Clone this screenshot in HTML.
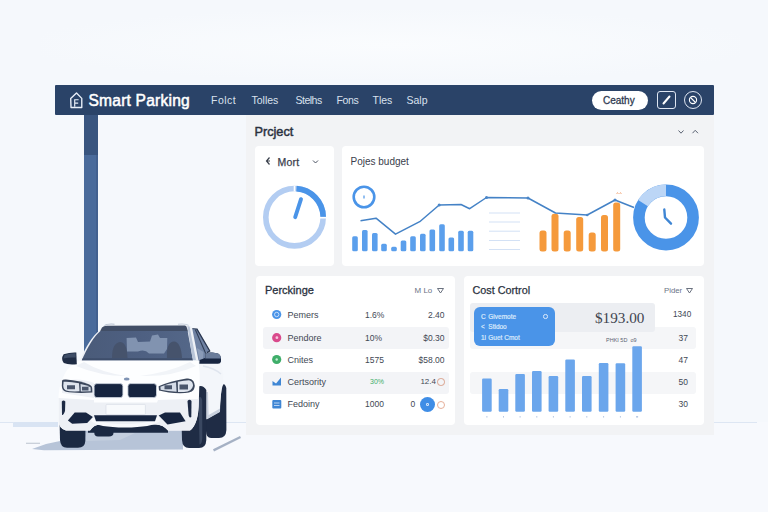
<!DOCTYPE html>
<html><head><meta charset="utf-8">
<style>
*{margin:0;padding:0;box-sizing:border-box}
html,body{width:768px;height:512px;overflow:hidden}
body{background:#f5f8fc;font-family:"Liberation Sans",sans-serif;position:relative;color:#2a3140}
.abs{position:absolute}
.t{position:absolute;white-space:nowrap;line-height:1}
#ground{left:0;top:422px;width:768px;height:90px;background:#f7f9fd}
.hz{position:absolute;top:422px;height:1px;background:#dde6f3}
#glow{left:40px;top:10px;width:700px;height:70px;background:radial-gradient(ellipse at center,#fafcfe 0%,#f5f8fc 75%)}
#band{left:13px;top:422px;width:45px;height:5px;background:#d9e4f3}
#pole1{left:84px;top:115px;width:14px;height:40px;background:#39557f}
#pole2{left:84px;top:155px;width:14px;height:200px;background:linear-gradient(90deg,#4a6b9b 0,#4a6b9b 85%,#43618f 85%)}
#hdr{left:55px;top:85px;width:659px;height:30px;background:#2a4368;border-radius:1px}
#panel{left:245.5px;top:115px;width:468.5px;height:319.5px;background:#f2f3f5}
.card{position:absolute;background:#fff;border-radius:4px}
.nav{color:#d9e1ee;font-size:10.5px;top:94.5px}
.stripe{position:absolute;background:#f3f4f7;border-radius:3px}
.row{font-size:9px;color:#424854}
.bx{font-size:6.5px;color:#dceafc;-webkit-text-stroke:0.2px #dceafc}
</style></head><body>
<div class="abs" id="glow"></div>
<div class="abs" id="ground"></div>
<div class="abs" id="band"></div>
<div class="hz" style="left:0;width:14px"></div><div class="hz" style="left:226px;width:20px"></div><div class="hz" style="left:714px;width:43px"></div>
<div class="abs" id="pole1"></div>
<div class="abs" id="pole2"></div>
<div class="abs" id="panel"></div>
<div class="abs" id="hdr"></div>

<!-- header content -->
<svg class="abs" style="left:68px;top:90.5px" width="17" height="19" viewBox="0 0 16 18"><path d="M2.5 7.2 L8 1.8 L13 7 V15.6 H2.8 Z" fill="none" stroke="#e8eef8" stroke-width="1.3" stroke-linejoin="round"/><path d="M6.3 15 V8.3 H10 M6.3 11.5 H9.6" fill="none" stroke="#e8eef8" stroke-width="1.1"/></svg>
<div class="t" id="brand" style="left:88.5px;top:92.5px;font-size:15.6px;color:#fff;-webkit-text-stroke:0.5px #fff;letter-spacing:0.2px">Smart Parking</div>
<div class="t nav" style="left:211px;letter-spacing:0.5px">Folct</div>
<div class="t nav" style="left:251.5px">Tolles</div>
<div class="t nav" style="left:295.5px;letter-spacing:-0.5px">Stelhs</div>
<div class="t nav" style="left:336.5px;letter-spacing:-0.4px">Fons</div>
<div class="t nav" style="left:372.5px">Tles</div>
<div class="t nav" style="left:406.5px">Salp</div>
<div class="abs" style="left:592px;top:90.5px;width:55.5px;height:19.5px;border-radius:10px;background:#fff"></div>
<div class="t" style="left:603px;top:95.5px;font-size:10px;color:#2f3b52;-webkit-text-stroke:0.3px #2f3b52">Ceathy</div>
<div class="abs" style="left:657px;top:90.5px;width:18.5px;height:18.5px;border:1.2px solid #dfe6f2;border-radius:3px"></div>
<svg class="abs" style="left:657px;top:90.5px" width="19" height="19" viewBox="0 0 19 19"><path d="M6.5 12.5 L12.5 5.5" stroke="#fff" stroke-width="2" stroke-linecap="round"/></svg>
<div class="abs" style="left:684px;top:91px;width:18px;height:18px;border:1.2px solid #dfe6f2;border-radius:50%"></div>
<svg class="abs" style="left:684px;top:91px" width="18" height="18" viewBox="0 0 18 18"><circle cx="9" cy="9" r="3.6" fill="none" stroke="#fff" stroke-width="1.1"/><path d="M6.5 6.5 L11.5 11.5" stroke="#fff" stroke-width="1.1"/></svg>

<!-- panel title -->
<div class="t" style="left:254.5px;top:126px;font-size:12.7px;color:#2a3140;-webkit-text-stroke:0.45px #2a3140">Prcject</div>
<svg class="abs" style="left:676px;top:127px" width="28" height="10" viewBox="0 0 28 10"><path d="M2.5 3.5 L5 6.2 L7.5 3.5" fill="none" stroke="#5a6272" stroke-width="1"/><path d="M16.5 6.2 L19.2 3.3 L22 6.2" fill="none" stroke="#5a6272" stroke-width="1"/></svg>

<!-- card 1 -->
<div class="card" style="left:255px;top:146px;width:79px;height:120px"></div>
<svg class="abs" style="left:264px;top:156px" width="8" height="10" viewBox="0 0 8 10"><path d="M5.5 1.5 L2.5 5 L5.5 8.5 M2.5 5 H6" fill="none" stroke="#3a404c" stroke-width="1.2"/></svg>
<div class="t" style="left:277.5px;top:156.5px;font-size:10.5px;color:#3a404c;-webkit-text-stroke:0.25px #3a404c;letter-spacing:0.2px">Mort</div>
<svg class="abs" style="left:311px;top:158px" width="10" height="8" viewBox="0 0 10 8"><path d="M2 2.5 L4.5 5 L7 2.5" fill="none" stroke="#4a5262" stroke-width="1"/></svg>
<svg class="abs" style="left:255px;top:146px" width="79" height="120" viewBox="255 146 79 120">
 <circle cx="294.5" cy="217.2" r="28.7" fill="none" stroke="#b3cdf2" stroke-width="5.6"/>
 <path d="M296.5 188.6 A28.7 28.7 0 0 1 323.2 216.7" fill="none" stroke="#4a94e8" stroke-width="5.6"/>
 <path d="M294.5 185.7 V191.2 M320 217.7 H326.5" stroke="#fff" stroke-width="1.6"/>
 <path d="M301 199.2 L295.2 217.2" stroke="#4a94e8" stroke-width="3.9" stroke-linecap="round"/>
</svg>

<!-- card 2 -->
<div class="card" style="left:341.5px;top:146px;width:362.5px;height:120px"></div>
<div class="t" style="left:350.5px;top:156.5px;font-size:10px;color:#3a404c">Pojes budget</div>
<svg class="abs" style="left:341px;top:146px" width="363" height="120" viewBox="341 146 363 120">
 <circle cx="364" cy="197" r="10.3" fill="none" stroke="#4a94e8" stroke-width="2.6"/>
 <path d="M364 195.5 V198.5" stroke="#4a94e8" stroke-width="1.2"/>
 <g fill="#5b9fec">
  <rect x="352.2" y="236.2" width="5.6" height="15" rx="1.5"/>
  <rect x="362" y="230" width="5.6" height="21.2" rx="1.5"/>
  <rect x="372" y="233" width="5.6" height="18.2" rx="1.5"/>
  <rect x="381.2" y="243.7" width="5.6" height="7.5" rx="1.5"/>
  <rect x="391.2" y="246.7" width="5.6" height="4.5" rx="1.5"/>
  <rect x="400.7" y="240.5" width="5.6" height="10.7" rx="1.5"/>
  <rect x="410.2" y="236.2" width="5.6" height="15" rx="1.5"/>
  <rect x="420" y="233.7" width="5.6" height="17.5" rx="1.5"/>
  <rect x="429.5" y="229.5" width="5.6" height="21.7" rx="1.5"/>
  <rect x="439.2" y="224.2" width="5.6" height="27" rx="1.5"/>
  <rect x="448.5" y="237.5" width="5.6" height="13.7" rx="1.5"/>
  <rect x="458.2" y="230.7" width="5.6" height="20.5" rx="1.5"/>
  <rect x="467.7" y="230.7" width="5.6" height="20.5" rx="1.5"/>
 </g>
 <g stroke="#d3e1f5" stroke-width="1">
  <path d="M489 213 H520 M489 222 H520 M489 231.2 H520 M489 240.5 H520 M489 249.5 H520"/>
 </g>
 <g fill="#f59a3c">
  <rect x="539.5" y="230.5" width="7" height="21" rx="2.5"/>
  <rect x="551.5" y="213.7" width="7" height="37.8" rx="2.5"/>
  <rect x="563.7" y="230.5" width="7" height="21" rx="2.5"/>
  <rect x="576.2" y="217" width="7" height="34.5" rx="2.5"/>
  <rect x="588.7" y="232.5" width="7" height="19" rx="2.5"/>
  <rect x="601" y="215" width="7" height="36.5" rx="2.5"/>
  <rect x="613.2" y="202.5" width="7" height="49" rx="2.5"/>
 </g>
 <polyline points="360.5,220.7 376,218.2 395.5,234.2 419.7,221.7 439.2,205 461,204.5 469.7,208.7 486.5,197.5 528,198 555.5,213 587.2,215 615,200 634,207.5" fill="none" stroke="#4482c6" stroke-width="1.5" stroke-linejoin="round"/>
 <g fill="#4a86c8"><circle cx="439.2" cy="205" r="1.5"/><circle cx="486.5" cy="197.5" r="1.5"/><circle cx="528" cy="198" r="1.5"/><circle cx="587.2" cy="215" r="1.3"/><circle cx="615" cy="200" r="1.5"/></g>
 <circle cx="666" cy="217.5" r="27.1" fill="none" stroke="#4a94e8" stroke-width="11.6"/>
 <path d="M643 203.1 A27.1 27.1 0 0 1 666 190.4" fill="none" stroke="#bcd6f6" stroke-width="11.6"/>
 <path d="M664.3 209.5 L665 217.5 L671 223.7" fill="none" stroke="#3f86d4" stroke-width="2.4" stroke-linejoin="round" stroke-linecap="round"/>
 <path d="M616.5 194 l1 -1.5 l1 1.5 M619.5 194 l1 -1.5 l1 1.5" stroke="#f0a070" stroke-width="0.7" fill="none"/>
</svg>

<!-- card 3 -->
<div class="card" style="left:255.5px;top:276px;width:199px;height:149px"></div>
<div class="stripe" style="left:263px;top:326.5px;width:185.5px;height:22.5px"></div>
<div class="stripe" style="left:263px;top:371.5px;width:185.5px;height:22.5px"></div>
<div class="t" style="left:265px;top:285px;font-size:11px;color:#2a3140;-webkit-text-stroke:0.3px #2a3140">Perckinge</div>
<div class="t" style="left:414.5px;top:287px;font-size:8px;color:#6a7386">M Lo</div>
<svg class="abs" style="left:436px;top:287px" width="9" height="8" viewBox="0 0 9 8"><path d="M1.5 1.5 H7.5 L4.5 6 Z" fill="none" stroke="#5a6272" stroke-width="0.9"/></svg>

<svg class="abs" style="left:270px;top:306px" width="14" height="106" viewBox="270 306 14 106">
 <circle cx="276.7" cy="314.5" r="4.6" fill="#4a94e8"/><circle cx="276.7" cy="314.5" r="2.2" fill="none" stroke="#cfe2fa" stroke-width="0.9"/>
 <circle cx="276.7" cy="337.7" r="4.6" fill="#d94a8c"/><circle cx="276.9" cy="337.7" r="1.4" fill="#f6c6dc"/>
 <circle cx="276.7" cy="359.5" r="4.6" fill="#3fae6a"/><circle cx="276.7" cy="359.5" r="1.2" fill="#c8efd6"/>
 <path d="M272.5 385.5 L272.5 381 L276 383.5 L281 377.5 L281 385.5 Z" fill="#3f86d4"/>
 <rect x="272.3" y="400" width="9" height="8.5" rx="1" fill="#3f86d4"/><path d="M274 403 h5.5 M274 405.5 h5.5" stroke="#d6e6fa" stroke-width="0.8"/>
</svg>
<div class="t row" style="left:287.5px;top:310.5px">Pemers</div>
<div class="t row" style="left:287.5px;top:333.8px">Pendore</div>
<div class="t row" style="left:287.5px;top:355.5px">Cnites</div>
<div class="t row" style="left:287.5px;top:377.5px">Certsority</div>
<div class="t row" style="left:287.5px;top:400px">Fedoiny</div>
<div class="t row" style="left:365px;top:310.5px;font-size:8.5px">1.6%</div>
<div class="t row" style="left:365px;top:333.8px;font-size:8.5px">10%</div>
<div class="t row" style="left:365px;top:355.5px;font-size:8.5px">1575</div>
<div class="t row" style="left:370px;top:378px;font-size:7px;color:#3fae6a">30%</div>
<div class="t row" style="left:365px;top:400px;font-size:8.5px">1000</div>
<div class="t row" style="right:323.5px;top:310.5px;font-size:8.5px">2.40</div>
<div class="t row" style="right:323.5px;top:333.8px;font-size:8.5px">$0.30</div>
<div class="t row" style="right:323.5px;top:355.5px;font-size:8.5px">$58.00</div>
<div class="t row" style="right:332px;top:377.5px;font-size:8px">12.4</div>
<div class="abs" style="left:437px;top:378px;width:7.5px;height:7.5px;border:1px solid #d9a08a;border-radius:50%"></div>
<div class="t row" style="left:410.5px;top:400px;font-size:8.5px">0</div>
<div class="abs" style="left:419.7px;top:397px;width:15px;height:15px;border-radius:50%;background:#3f8de6"></div>
<div class="abs" style="left:425.5px;top:403px;width:3.5px;height:3px;border-radius:50%;border:0.8px solid #d6e6fa"></div>
<div class="abs" style="left:437px;top:400.5px;width:8px;height:8px;border:1px solid #e6b09a;border-radius:50%"></div>

<!-- card 4 -->
<div class="card" style="left:463.5px;top:276px;width:240.5px;height:149px"></div>
<div class="stripe" style="left:470px;top:326.5px;width:225.5px;height:22.5px;background:#f5f6f8"></div>
<div class="stripe" style="left:470px;top:371.5px;width:225.5px;height:22.5px;background:#f5f6f8"></div>
<div class="abs" style="left:470px;top:302.5px;width:184.5px;height:29px;background:#eceef2;border-radius:3px"></div>
<div class="t" style="left:472.5px;top:285px;font-size:10.8px;color:#2a3140;-webkit-text-stroke:0.25px #2a3140">Cost Cortrol</div>
<div class="t" style="left:664px;top:287.2px;font-size:7.8px;color:#6a7386">Pider</div>
<svg class="abs" style="left:684.5px;top:287px" width="9" height="8" viewBox="0 0 9 8"><path d="M1.5 1.5 H7.5 L4.5 6 Z" fill="none" stroke="#5a6272" stroke-width="0.9"/></svg>
<div class="abs" style="left:474px;top:307px;width:80.5px;height:38.5px;background:#4a94e8;border-radius:6px"></div>
<div class="t bx" style="left:481px;top:313.5px">C</div><div class="t bx" style="left:488.3px;top:313.5px">Givemote</div>
<div class="t bx" style="left:481px;top:324px">&lt;</div><div class="t bx" style="left:488.3px;top:324px">Stidoo</div>
<div class="t bx" style="left:481px;top:334.5px">1l</div><div class="t bx" style="left:488.3px;top:334.5px">Guet Cmot</div>
<div class="abs" style="left:543px;top:314px;width:4.5px;height:4.5px;border-radius:50%;border:0.9px solid #dceafc"></div>
<div class="t" style="left:595px;top:309.5px;font-size:15.2px;color:#3f4450;font-family:'Liberation Serif',serif">$193.00</div>
<div class="t" style="left:606px;top:337.5px;font-size:5.5px;color:#5a6272">PHKI 5D &nbsp;o9</div>
<svg class="abs" style="left:464px;top:340px" width="200" height="82" viewBox="464 340 200 82">
 <g fill="#6ba6ec">
  <rect x="482.1" y="378.5" width="9.6" height="33.3" rx="1.2"/>
  <rect x="498.7" y="389" width="9.6" height="22.8" rx="1.2"/>
  <rect x="515.3" y="373.9" width="9.6" height="37.9" rx="1.2"/>
  <rect x="532" y="371" width="9.6" height="40.8" rx="1.2"/>
  <rect x="548.6" y="376" width="9.6" height="35.8" rx="1.2"/>
  <rect x="565.3" y="359.5" width="9.6" height="52.3" rx="1.2"/>
  <rect x="582" y="376" width="9.6" height="35.8" rx="1.2"/>
  <rect x="598.8" y="363" width="9.6" height="48.8" rx="1.2"/>
  <rect x="615.6" y="363.3" width="9.6" height="48.5" rx="1.2"/>
  <rect x="632.3" y="346.2" width="9.6" height="65.6" rx="1.2"/>
 </g>
 <g fill="#b9c9e3">
  <rect x="486.4" y="416" width="1" height="1.6"/><rect x="503" y="416" width="1" height="1.6"/><rect x="519.6" y="416" width="1" height="1.6"/><rect x="536.3" y="416" width="1" height="1.6"/><rect x="552.9" y="416" width="1" height="1.6"/><rect x="569.6" y="416" width="1" height="1.6"/><rect x="586.3" y="416" width="1" height="1.6"/><rect x="603.1" y="416" width="1" height="1.6"/><rect x="619.9" y="416" width="1" height="1.6"/><rect x="636.1" y="416" width="2" height="1.6"/>
 </g>
</svg>
<div class="t row" style="left:673px;top:310.5px;font-size:8.2px">1340</div>
<div class="t row" style="left:678.5px;top:333.8px;font-size:8.5px">37</div>
<div class="t row" style="left:678.5px;top:355.5px;font-size:8.5px">47</div>
<div class="t row" style="left:678.5px;top:377.5px;font-size:8.5px">50</div>
<div class="t row" style="left:678.5px;top:400px;font-size:8.5px">30</div>

<!-- CAR -->
<svg class="abs" id="car" style="left:0;top:300px" width="260" height="170" viewBox="0 300 260 170">
 <defs><linearGradient id="ws" x1="0" x2="1" y1="0" y2="0"><stop offset="0" stop-color="#4a5b79"/><stop offset="0.55" stop-color="#4e6082"/><stop offset="1" stop-color="#546788"/></linearGradient></defs>
 <!-- shadow -->
 <path d="M32 449 L46 444 L60 441 L60 430 L183 430 L183 449.5 L44 450.2 Z" fill="#b7c4d8"/>
 <path d="M86 433 L135 433 L120 440 L86 441 Z" fill="#c3cede"/>
 <path d="M26 443.3 h14" stroke="#c4cbd6" stroke-width="1.2"/>
 <path d="M213.5 450.3 L240.5 437" stroke="#a5b1c4" stroke-width="2.4"/>
 <!-- rear wheel -->
 <path d="M206 414 L220 406 L221.5 388 Q224 380.5 226.3 388 L226.4 430 Q226 438 219 438 L211 438 Q206 438 206 431 Z" fill="#1f2c45"/>
 <!-- body side -->
 <path d="M196 357 L219 359.5 Q224.5 372 223 384 Q220 394 220 411.5 L207 419 L197 421 Z" fill="#f3f6fa"/>
 <path d="M206.3 392 L206.6 419.5 L220 412 L220 408.5 L208.6 415 L208 392 Z" fill="#c9d1de"/>
 <path d="M203 366 Q214 368 221 374" stroke="#dfe5ee" stroke-width="1.5" fill="none"/>
 <!-- front right wheel + arch -->
 <path d="M198 386.5 Q203 384.5 206.3 390 L206.3 440 Q206 448 199 448 L189 448 Q182.5 448 182 440 L181.5 420 L196 420 Z" fill="#1f2c45"/>
 <path d="M198.5 398 Q201 395 202.2 400 L202.3 438 Q202 444 199.5 444.5 L199 420 Z" fill="#3a4861"/>
 <!-- left wheel -->
 <path d="M59.5 418 L85.6 418 L85.3 441 Q85 447.8 78 447.8 L67 447.8 Q60.5 447.8 60 440 Z" fill="#1b2942"/>
 <!-- under car dark -->
 <path d="M88 423 H168 V432.8 H113.5 Q113.5 436.6 109 436.6 H98 Q94.3 436.6 94.3 432.8 H88 Z" fill="#1b2942"/>
 <!-- main body -->
 <path d="M81.5 359.5 L192.5 359.5 L198 360 Q200.5 372 199.3 386 L198.8 402 Q198.8 424 190 430.6 L168 430.6 Q163 424.6 156 424.6 L100 424.6 Q94 424.8 90 430.6 L66 430.6 Q58.6 428.5 58.6 420 L58.5 396 Q59.3 386 62 380 Q66 368 76 362 Z" fill="#fdfeff"/>
 <!-- body shading -->
 <path d="M58.6 398 Q75 399 94 400 L94 402.5 L157 402.5 L158 400 Q180 399 198.8 399 Q198.8 424 190 430.6 L168 430.6 Q163 424.6 156 424.6 L100 424.6 Q94 424.8 90 430.6 L66 430.6 Q58.6 428.5 58.6 420 Z" fill="#edf0f5"/>
 <path d="M62 381 Q80 377 94 383 L94 398 L62 393 Z" fill="#eef1f6"/>
 <path d="M84 362 Q100 372 126 376 Q100 376 76 366 Z" fill="#eff2f7"/>
 <path d="M190 362 Q170 372 140 376 Q172 377 196 366 Z" fill="#f1f4f8"/>
 <path d="M92.9 416.9 Q98 424 125 424 Q152 424 158.7 416 L160 421 Q152 427.5 125 427.5 Q98 427.5 91 421 Z" fill="#f7f9fc"/>
 <!-- roof + windshield -->
 <path d="M99.5 330.5 Q101 327 105 326 Q108 324 114 324.8 L186 324.8 Q189 324 190 327 L198.5 359.8 L80 360.4 C85.5 347.5 92.5 335.5 99.5 330.5 Z" fill="#eef1f6"/>
 <path d="M102 327.5 Q103.5 325.8 107 325.8 L185 325.6 Q186.5 325.8 187 328 L188 331.5 L100 331.5 Z" fill="#414e66"/>
 <path d="M100.5 331 L187.6 331 L193 360.2 L81.8 360.2 C87 348 94 336 100.5 331 Z" fill="url(#ws)"/>
 <path d="M126.6 338 L136 337.5 L138 342 L150 341.5 L152 335.5 L158 334.5 L160 338 L167.3 338 L167 349 L164 353.5 L149 353.5 Q145 349 138 351.5 L127 351.5 Z" fill="#8193b0"/>
 <path d="M112 358 Q112 343 120 342 Q127 342 127.5 358 Z M167 358 Q166 342 174 341.5 Q181 342 182 358 Z" fill="#46536c"/>
 <path d="M81.8 360.2 L193 360.2 L192.6 358.3 L82.8 358.3 Z" fill="#3e4e6b"/>
 <path d="M104.5 325.6 Q107 323.6 114.5 324.2" stroke="#b9c3d2" stroke-width="1.1" fill="none"/>
 <path d="M178 324.2 Q186 323.4 188.6 325.4" stroke="#c5cedb" stroke-width="1.1" fill="none"/>
 <!-- side windows -->
 <path d="M187.4 326 L190.8 327 L198.8 360.2 L192.8 360.2 Z" fill="#b9c5d8"/>
 <path d="M189.6 326.6 L191.6 327.6 L199.6 360.2 L196 360.2 Z" fill="#eef1f6"/>
 <path d="M192.2 328.5 L197.3 329 L209.8 351 L205.4 353.5 L204.8 361 L198.5 360.4 Z" fill="#6f82a3"/>
 <path d="M197 348 L203.5 352 L203 360.5 L199.4 360.2 Z" fill="#8a9bb8"/>
 <path d="M195.3 329.5 L205.8 353.6" stroke="#2f3d55" stroke-width="1.1" fill="none"/>
 <path d="M196.8 328.8 L209.8 351 L207 352.6" stroke="#2a3750" stroke-width="1.3" fill="none" stroke-linejoin="round"/>
 <path d="M192.4 328.6 L197.2 329" stroke="#2f3d55" stroke-width="0.9"/>
 <!-- mirrors -->
 <path d="M63.6 354.3 Q70 352.3 76.3 352.6 L76.8 364.2 Q68 365 63.8 363 Q60.6 359 63.6 354.3 Z" fill="#1f2c44"/>
 <path d="M64.5 355 Q70 353 75.6 353.3 L75.8 357.5 Q69 357 63.4 358.5 Z" fill="#3e4d66"/>
 <path d="M199.3 363.8 L199.6 360 L205 358 L205.4 353.5 Q208 352.2 212 352.5 L218 353.5 Q221 355 221 359 L221 361.5 Q220.5 363.8 218 363.8 Z" fill="#172540"/>
 <path d="M205.6 353.6 Q209 352.2 213 352.6 L218 353.6 Q220.8 355 220.8 358.6 L205.2 358.4 Z" fill="#6a7c9a"/>
 <!-- headlights -->
 <path d="M62 380.8 Q62.5 379.3 66 379.6 Q80 381 88 384 Q92 385.5 92.2 388 L92.4 392.6 Q75 393.6 66 391.8 Q62 390.5 61.8 386 Z" fill="#3b475c"/>
 <path d="M63.6 381.8 Q70 381.3 79 383.3 L79.5 391.3 Q70 391.8 66.3 390.5 Q63.2 389 63.3 385.5 Z" fill="#dfe5ee"/>
 <path d="M80.5 384 Q86 384.8 90.5 387.2 L90.8 391.2 L80.8 391.6 Z" fill="#d5dce7"/>
 <path d="M67 385.3 h8 v4 h-8 Z M82 386.8 h6.5 v3.6 h-6.5 Z" fill="#4a566c"/>
 <path d="M158.6 386.2 Q170 381.5 186.5 378.6 Q191.5 378 193.3 381 Q196 385.5 193.5 390 Q191 393.3 180 393.3 Q168 393 159 390.5 Z" fill="#3b475c"/>
 <path d="M160.4 386.8 Q168 383.6 176 382.2 L176.6 391.8 Q168 391.4 160.6 389.8 Z" fill="#d5dce7"/>
 <path d="M177.8 381.8 Q184 380.4 189 380.2 Q193 381 193 385.8 Q192 391.6 184 392 L178 392 Z" fill="#dfe5ee"/>
 <path d="M164.5 385.3 h7.5 v4 h-7.5 Z M179.5 384.5 h8.5 v5 h-8.5 Z" fill="#4a566c"/>
 <!-- grilles -->
 <rect x="94.1" y="383.6" width="28.8" height="14" rx="2.8" fill="#172540" stroke="#d3dae5" stroke-width="0.8"/>
 <rect x="127.9" y="383.6" width="28.6" height="14" rx="2.8" fill="#172540" stroke="#d3dae5" stroke-width="0.8"/>
 <ellipse cx="126.7" cy="379" rx="2.9" ry="1.5" fill="#7f93b4"/>
 <!-- plate -->
 <rect x="106" y="404.4" width="39.4" height="10.2" rx="0.8" fill="#f8fafc" stroke="#d3d9e3" stroke-width="0.6"/>
 <!-- lower grille -->
 <path d="M94 415.3 H157 L155 421.3 H96 Z" fill="#172540"/>
 <!-- intakes -->
 <path d="M67.9 420.6 L74.7 412.5 L86 412.5 L92.9 416.9 L87.2 423 L72.2 423.8 Z" fill="#172540"/>
 <path d="M158.7 415.6 L165 412.5 L180 412.5 L185.6 421.2 L167.5 424.4 Z" fill="#172540"/>
 <path d="M61.8 401.5 Q63.5 399.3 65.3 401.5 L65 411 Q63.5 415.5 62 415 Z" fill="#1d2a44"/>
 <path d="M187.5 401 Q189.5 398.6 191.5 401 L191.3 417 Q189 418.5 188.5 414 Z" fill="#1d2a44"/>
</svg>
</body></html>
